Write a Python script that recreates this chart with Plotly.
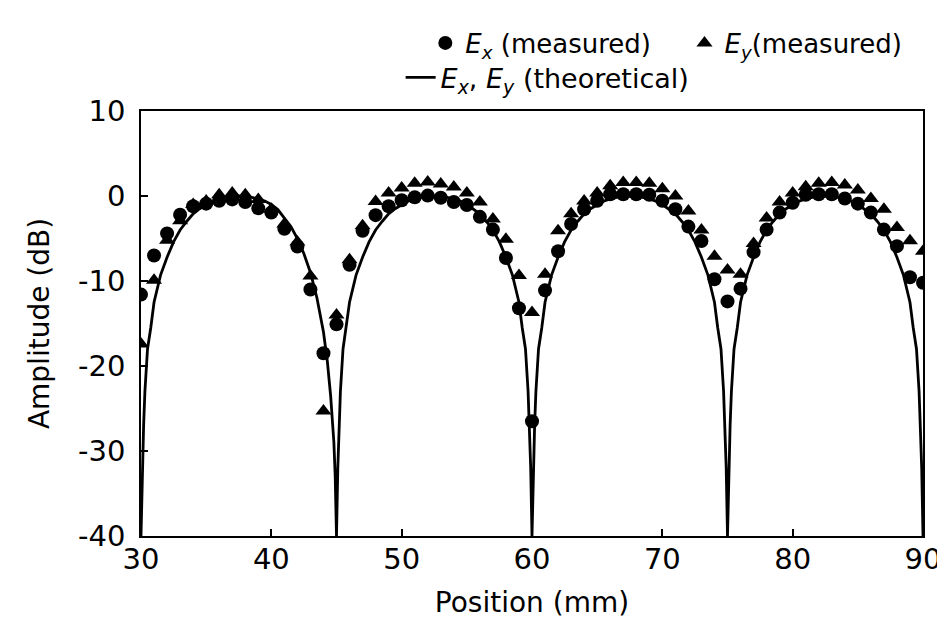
import plotly.graph_objects as go

# ---- data ----
positions = list(range(30, 91))

ex_measured = [
    -11.6, -7.0, -4.4, -2.2, -1.2, -0.9, -0.55, -0.4, -0.7, -1.45,
    -1.95, -3.85, -5.95, -11.0, -18.5, -15.1, -8.1, -4.1, -2.25, -1.2,
    -0.5, -0.15, 0.05, -0.2, -0.7, -1.05, -2.45, -3.95, -7.3, -13.2,
    -26.5, -11.1, -6.5, -3.3, -1.55, -0.55, 0.2, 0.2, 0.2, 0.15,
    -0.55, -1.55, -3.6, -5.3, -9.8, -12.4, -10.9, -6.6, -3.95, -1.95,
    -0.8, 0.15, 0.2, 0.2, -0.3, -0.9, -1.95, -3.95, -5.9, -9.55,
    -10.2,
]

ey_measured = [
    -17.4, -9.9, -5.2, -2.9, -1.0, -0.6, 0.15, 0.35, 0.15, -0.4,
    -1.55, -3.3, -5.4, -9.4, -25.3, -14.0, -7.5, -3.5, -0.65, 0.35,
    0.95, 1.5, 1.65, 1.4, 1.05, 0.35, -0.7, -2.7, -5.1, -9.35,
    -13.7, -9.2, -4.1, -2.1, -0.6, 0.35, 1.2, 1.6, 1.6, 1.5,
    0.85, 0.0, -1.75, -4.0, -7.1, -8.7, -9.2, -5.6, -2.6, -0.7,
    0.35, 1.1, 1.5, 1.6, 1.3, 0.7, -0.3, -1.55, -3.7, -5.25,
    -6.5,
]

theory_x = [
    30.0, 30.1, 30.2, 30.3, 30.5, 30.75, 31.0, 31.5, 32.0, 32.5, 33.0, 33.5, 34.0, 34.5,
    35.0, 35.5, 36.0, 36.5, 37.0, 37.5, 38.0, 38.5, 39.0, 39.5, 40.0, 40.5, 41.0, 41.5,
    42.0, 42.5, 43.0, 43.5, 44.0, 44.3, 44.55, 44.8, 44.9, 45.0,
    45.1, 45.2, 45.3, 45.5, 45.75, 46.0, 46.5, 47.0, 47.5, 48.0, 48.5, 49.0, 49.5,
    50.0, 50.5, 51.0, 51.5, 52.0, 52.5, 53.0, 53.5, 54.0, 54.5, 55.0, 55.5, 56.0, 56.5,
    57.0, 57.5, 58.0, 58.5, 59.0, 59.25, 59.5, 59.7, 59.8, 59.9, 60.0,
    60.1, 60.2, 60.3, 60.5, 60.75, 61.0, 61.5, 62.0, 62.5, 63.0, 63.5, 64.0, 64.5,
    65.0, 65.5, 66.0, 66.5, 67.0, 67.5, 68.0, 68.5, 69.0, 69.5, 70.0, 70.5, 71.0, 71.5,
    72.0, 72.5, 73.0, 73.5, 74.0, 74.25, 74.5, 74.7, 74.8, 74.9, 75.0,
    75.1, 75.2, 75.3, 75.5, 75.75, 76.0, 76.5, 77.0, 77.5, 78.0, 78.5, 79.0, 79.5,
    80.0, 80.5, 81.0, 81.5, 82.0, 82.5, 83.0, 83.5, 84.0, 84.5, 85.0, 85.5, 86.0, 86.5,
    87.0, 87.5, 88.0, 88.5, 89.0, 89.25, 89.5, 89.7, 89.8, 89.9, 90.0,
]

theory_y = [
    -40, -32, -27, -23, -18, -15.5, -12.5, -9.3, -7.2, -5.4, -4.0, -3.0, -2.1, -1.5,
    -1.0, -0.6, -0.35, -0.15, -0.05, 0.0, -0.05, -0.15, -0.35, -0.6, -1.0, -1.6, -2.6, -3.6,
    -5.0, -6.8, -9.0, -12.0, -16.0, -19.5, -23.5, -29.0, -33.0, -40,
    -32, -27, -23, -18, -15.5, -12.5, -9.3, -7.2, -5.4, -4.0, -3.0, -2.1, -1.5,
    -1.0, -0.6, -0.35, -0.15, -0.05, 0.0, -0.05, -0.15, -0.35, -0.6, -1.0, -1.5, -2.1, -3.0,
    -4.0, -5.4, -7.2, -9.3, -12.5, -15.5, -18, -23, -27, -32, -40,
    -32, -27, -23, -18, -15.5, -12.5, -9.3, -7.2, -5.4, -4.0, -3.0, -2.1, -1.5,
    -1.0, -0.6, -0.35, -0.15, -0.05, 0.0, -0.05, -0.15, -0.35, -0.6, -1.0, -1.5, -2.1, -3.0,
    -4.0, -5.4, -7.2, -9.3, -12.5, -15.5, -18, -23, -27, -32, -40,
    -32, -27, -23, -18, -15.5, -12.5, -9.3, -7.2, -5.4, -4.0, -3.0, -2.1, -1.5,
    -1.0, -0.6, -0.35, -0.15, -0.05, 0.0, -0.05, -0.15, -0.35, -0.6, -1.0, -1.5, -2.1, -3.0,
    -4.0, -5.4, -7.2, -9.3, -12.5, -15.5, -18, -23, -27, -32, -40,
]

x_tick_vals = [30, 40, 50, 60, 70, 80, 90]
x_tick_text = ["30", "40", "50", "60", "70", "80", "90"]
y_tick_vals = [10, 0, -10, -20, -30, -40]
y_tick_text = ["10", "0", "-10", "-20", "-30", "-40"]

FONT = "DejaVu Sans"

fig = go.Figure()

fig.add_trace(go.Scatter(
    x=theory_x, y=theory_y, mode="lines",
    line=dict(color="black", width=2.8),
    name="<i>E</i><sub><i>x</i></sub>, <i>E</i><sub><i>y</i></sub> (theoretical)",
    legend="legend3", showlegend=True,
))
fig.add_trace(go.Scatter(
    x=positions, y=ex_measured, mode="markers",
    marker=dict(symbol="circle", size=14, color="black"),
    name="<i>E</i><sub><i>x</i></sub> (measured)",
    legend="legend", showlegend=True,
))
fig.add_trace(go.Scatter(
    x=positions, y=ey_measured, mode="markers",
    marker=dict(symbol="triangle-up", size=14, color="black"),
    name="<i>E</i><sub><i>y</i></sub>(measured)",
    legend="legend2", showlegend=True,
))

leg_common = dict(xanchor="left", yanchor="middle",
                  bgcolor="rgba(0,0,0,0)", itemwidth=30, visible=True)

fig.update_layout(
    width=945, height=620,
    paper_bgcolor="white", plot_bgcolor="white",
    showlegend=True,
    margin=dict(l=133, r=20, t=89, b=92),
    font=dict(family=FONT, color="black", size=22),
    legend=dict(x=0.3636, y=1.160, font=dict(size=26, family=FONT), **leg_common),
    legend2=dict(x=0.695, y=1.160, font=dict(size=26, family=FONT), **leg_common),
    legend3=dict(x=0.332, y=1.078, font=dict(size=27, family=FONT), **leg_common),
    xaxis=dict(
        range=[30, 90], tickmode="array", tickvals=x_tick_vals, ticktext=x_tick_text,
        ticks="inside", ticklen=7, tickwidth=1.5, tickcolor="black",
        showline=True, linecolor="black", linewidth=1.5, mirror=True,
        showgrid=False, zeroline=False, ticklabelstandoff=-4,
        tickfont=dict(size=29, family=FONT),
        title=dict(text="Position (mm)", font=dict(size=28, family=FONT), standoff=18),
    ),
    yaxis=dict(
        range=[-40, 10], tickmode="array", tickvals=y_tick_vals, ticktext=y_tick_text,
        ticks="inside", ticklen=7, tickwidth=1.5, tickcolor="black",
        showline=True, linecolor="black", linewidth=1.5, mirror=True,
        showgrid=False, zeroline=False, ticklabelstandoff=8,
        tickfont=dict(size=29, family=FONT),
        title=dict(text="Amplitude (dB)", font=dict(size=28, family=FONT), standoff=20),
    ),
)

fig.write_html("out.html")
